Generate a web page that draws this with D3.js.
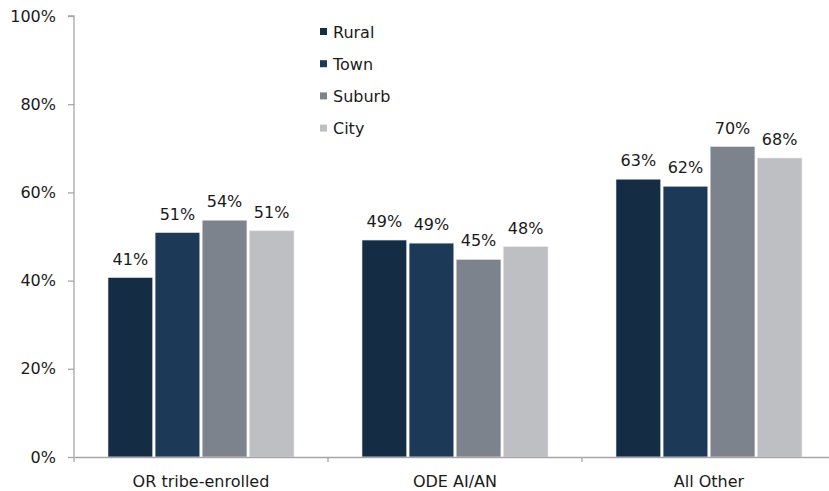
<!DOCTYPE html>
<html><head><meta charset="utf-8">
<script src="https://cdn.jsdelivr.net/npm/d3@7"></script>
<style>body{margin:0;background:#fff}svg{display:block}text{font-family:"DejaVu Sans",sans-serif;fill:#1a1a1a}</style>
</head><body>
<svg id="c" width="829" height="491"></svg>
<script>
const categories = ["OR tribe-enrolled", "ODE AI/AN", "All Other"];
const seriesNames = ["Rural", "Town", "Suburb", "City"];
const rural  = [40.7, 49.2, 63.0];
const town   = [50.9, 48.5, 61.4];
const suburb = [53.7, 44.8, 70.4];
const city   = [51.3, 47.7, 67.8];
const labelsRural  = ["41%", "49%", "63%"];
const labelsTown   = ["51%", "49%", "62%"];
const labelsSuburb = ["54%", "45%", "70%"];
const labelsCity   = ["51%", "48%", "68%"];
const yTicks = [0, 20, 40, 60, 80, 100];
const colors = ["#142c44", "#1c3a58", "#7c838d", "#bebfc3"];

const series = [rural, town, suburb, city];
const labels = [labelsRural, labelsTown, labelsSuburb, labelsCity];
const FS = 16;
const FF = "DejaVu Sans, sans-serif";

const svg = d3.select("#c");
const x0 = 74, yBase = 457, yTop = 16;
const x = d3.scaleBand().domain(categories).range([x0, x0 + 3 * 254]).paddingInner(0).paddingOuter(0);
const inner = d3.scaleBand().domain(seriesNames).range([0, 186]).paddingInner(0.05).paddingOuter(0);
const groupOffset = (x.bandwidth() - 186) / 2;
const y = d3.scaleLinear().domain([0, 100]).range([yBase, yTop]);

// Y axis
const yAxis = svg.append("g").attr("transform", `translate(${x0},0)`)
  .call(d3.axisLeft(y).tickValues(yTicks).tickSize(6).tickPadding(12).tickFormat(d => d + "%"));
yAxis.selectAll("path,line").attr("stroke", "#a6a6a6").attr("stroke-width", 1.3);
yAxis.select(".domain").attr("d", `M-6,${yTop}H0V${yBase}`);
yAxis.selectAll("text").attr("font-size", FS).attr("font-family", FF).attr("fill", "#1a1a1a");

// Bars
categories.forEach((cat, ci) => {
  seriesNames.forEach((s, si) => {
    const bx = x(cat) + groupOffset + inner(s);
    const v = series[si][ci];
    svg.append("rect")
      .attr("x", bx).attr("y", y(v))
      .attr("width", inner.bandwidth()).attr("height", yBase - y(v))
      .attr("fill", colors[si]).attr("stroke", "#e8e8ea").attr("stroke-width", 0.6);
    svg.append("text")
      .attr("x", bx + inner.bandwidth() / 2).attr("y", y(v) - 13)
      .attr("text-anchor", "middle").attr("font-size", FS)
      .text(labels[si][ci]);
  });
});

// X axis
const xAxis = svg.append("g").attr("transform", `translate(0,${yBase})`)
  .call(d3.axisBottom(x).tickValues([]).tickSizeOuter(0));
xAxis.select(".domain").attr("stroke", "#a6a6a6").attr("stroke-width", 1.3);
const bounds = [x0, x0 + 254, x0 + 508];
svg.selectAll(".xt").data(bounds).enter().append("line")
  .attr("x1", d => d).attr("x2", d => d).attr("y1", yBase).attr("y2", yBase + 5)
  .attr("stroke", "#a6a6a6").attr("stroke-width", 1.3);
svg.selectAll(".xl").data(categories).enter().append("text")
  .attr("x", d => x(d) + x.bandwidth() / 2).attr("y", 487)
  .attr("text-anchor", "middle").attr("font-size", FS).text(d => d);

// Legend
const leg = svg.append("g");
seriesNames.forEach((s, i) => {
  const ly = 32 + i * 32.2;
  leg.append("rect").attr("x", 320).attr("y", ly - 4).attr("width", 7).attr("height", 7).attr("fill", colors[i]);
  leg.append("text").attr("x", 333).attr("y", ly + 5.5).attr("font-size", FS).text(s);
});
</script>
</body></html>
